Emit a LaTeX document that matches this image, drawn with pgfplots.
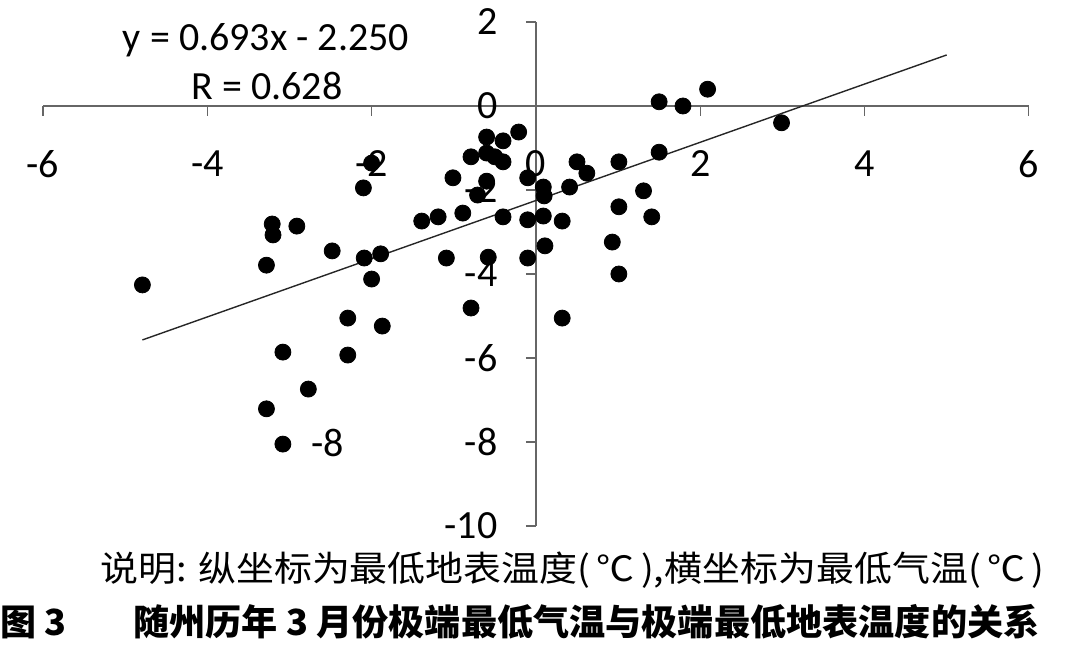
\documentclass[border=0pt]{standalone}
\usepackage{pgfplots}
\pgfplotsset{compat=1.18}
\usepackage{graphicx}
\usepackage{fontspec}
\setmainfont{Carlito}
\newfontfamily\cjk{Noto Sans CJK SC}
\begin{document}
\begin{tikzpicture}
\useasboundingbox (0,0) rectangle (534pt,326pt);
\begin{axis}[
  at={(21.5pt,63pt)}, anchor=south west,
  scale only axis, width=492.9pt, height=252pt,
  xmin=-6, xmax=6, ymin=-10, ymax=2,
  axis lines=middle,
  axis line style={-, black!60, line width=0.6pt},
  xtick={-6,-4,...,6}, ytick={-10,-8,...,2},
  tick align=outside,
  major tick length=5pt,
  tick style={black!60, line width=0.6pt},
  hide obscured x ticks=false, hide obscured y ticks=false,
  /pgf/number format/assume math mode=true,
  ticklabel style={font=\fontsize{20}{24}\selectfont, inner sep=0pt},
  xticklabel style={anchor=center, yshift=-24pt},
  yticklabel style={anchor=east, xshift=-14pt},
  clip=false,
]
\addplot[only marks, mark=*, mark size=4pt, black] coordinates {
(-4.79,-4.26) (-3.28,-3.79) (-3.21,-2.81) (-3.20,-3.07) (-2.91,-2.86)
(-2.48,-3.45) (-3.08,-5.86) (-2.77,-6.74) (-3.28,-7.21) (-3.08,-8.05)
(-2.00,-1.36) (-2.10,-1.95) (-2.09,-3.62) (-1.89,-3.52) (-2.00,-4.12)
(-2.29,-5.05) (-1.87,-5.24) (-2.29,-5.93) (-1.39,-2.74) (-1.19,-2.64)
(-0.89,-2.55) (-1.09,-3.62) (-0.79,-4.81) (-1.01,-1.71) (-0.79,-1.21)
(-0.60,-0.74) (-0.40,-0.83) (-0.60,-1.12) (-0.50,-1.21) (-0.40,-1.33)
(-0.21,-0.62) (-0.60,-1.79) (-0.71,-2.12) (-0.10,-1.71) (-0.40,-2.64)
(-0.10,-2.71) (-0.58,-3.60) (-0.10,-3.62) (0.09,-1.93) (0.10,-2.14)
(0.09,-2.62) (0.11,-3.33) (0.32,-2.74) (0.41,-1.93) (0.50,-1.33)
(0.62,-1.60) (1.01,-1.33) (1.50,-1.10) (1.31,-2.02) (1.01,-2.40)
(1.41,-2.64) (0.93,-3.24) (1.01,-4.00) (0.32,-5.05) (1.50,0.10)
(1.79,0.00) (2.09,0.40) (2.99,-0.40)
};
\addplot[black!85, line width=0.7pt] coordinates {(-4.79,-5.57) (5.0,1.215)};
\end{axis}
\node[font=\fontsize{20}{24}\selectfont, inner sep=0pt] at (133pt,306pt) {y = 0.693x - 2.250};
\node[font=\fontsize{20}{24}\selectfont, inner sep=0pt] at (133.5pt,283pt) {R = 0.628};
\node[font=\fontsize{20}{24}\selectfont, inner sep=0pt] at (164pt,104.5pt) {-8};
\node[font=\cjk\fontsize{17.5}{20}\selectfont, inner sep=0pt, anchor=west] at (50pt,41pt) {\resizebox{472pt}{\height}{说明: 纵坐标为最低地表温度(\,℃\,),横坐标为最低气温(\,℃\,)}};
\node[font=\cjk\bfseries\fontsize{18}{20}\selectfont, inner sep=0pt, anchor=west] at (0pt,15pt) {图 3};
\node[font=\cjk\bfseries\fontsize{18}{20}\selectfont, inner sep=0pt, anchor=west] at (66.5pt,15pt) {\resizebox{453pt}{\height}{随州历年 3 月份极端最低气温与极端最低地表温度的关系}};
\end{tikzpicture}
\end{document}
